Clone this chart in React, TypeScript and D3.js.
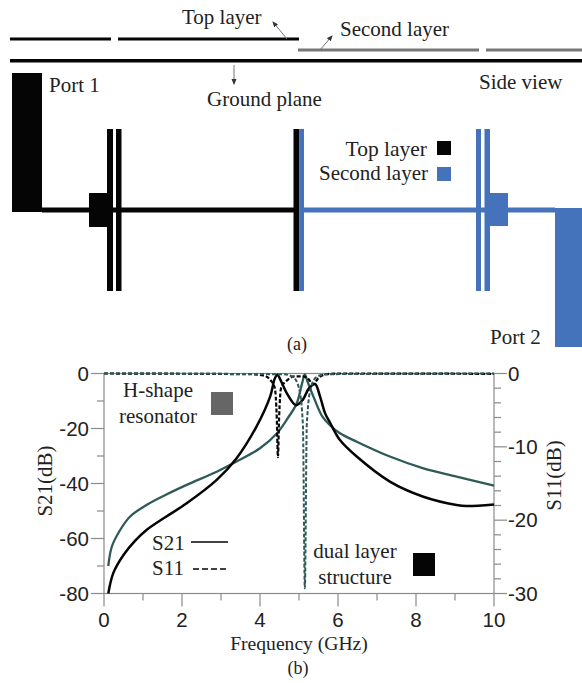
import React from 'react';
import * as d3 from 'd3';

type Pt = [number, number];

// dual layer structure, S21 (dB) and S11 (dB, right axis)
const dualS21: Pt[] = [[0.11, -80], [0.24, -72.5], [0.5, -66], [0.8, -60.8], [1.09, -56.9], [1.6, -52], [2.12, -47.2], [2.89, -38.7], [3.4, -30.8], [3.91, -19.3], [4.26, -8.4], [4.38, -1.8], [4.45, -0.5], [4.53, -2.5], [4.7, -7.5], [4.92, -11.5], [5.1, -9.5], [5.25, -5.5], [5.41, -3.8], [5.54, -8.4], [5.67, -14.5], [5.8, -18], [6.05, -24.2], [6.48, -30.2], [7.33, -39.3], [8.19, -44.8], [9.04, -47.8], [9.3, -48.2], [10, -47.6]];
const dualS11: Pt[] = [[0, 0], [3.8, -0.1], [4.1, -0.3], [4.25, -0.8], [4.38, -2], [4.43, -6], [4.46, -11.4], [4.49, -6], [4.54, -2], [4.7, -0.9], [4.9, -0.4], [5.1, -0.4], [5.25, -0.8], [5.36, -1.5], [5.5, -0.6], [5.7, -0.1], [6, 0], [10, -0.05]];
// H-shape resonator
const hS21: Pt[] = [[0.11, -70], [0.2, -63], [0.41, -57], [0.67, -52], [1.09, -47.8], [1.6, -44], [2.12, -40.5], [2.89, -35.7], [3.4, -32], [4, -27.2], [4.43, -21.8], [4.7, -16.5], [4.94, -10.9], [5.08, -3.5], [5.15, -0.3], [5.22, -3], [5.37, -8.4], [5.6, -15.7], [5.8, -18.9], [6.05, -21.7], [6.48, -24.8], [7.33, -30.2], [8.19, -34.5], [9.04, -37.5], [10, -40.8]];
const hS11: Pt[] = [[0, 0], [4.6, -0.1], [4.85, -0.5], [5.0, -2], [5.1, -7], [5.15, -29.3], [5.2, -7], [5.3, -2], [5.45, -0.5], [5.7, -0.1], [10, 0]];

const xMajor = [0, 2, 4, 6, 8, 10];
const xMinor = [1, 3, 5, 7, 9];
const s21Major = [0, -20, -40, -60, -80];
const s21Minor = [-10, -30, -50, -70];
const s11Major = [0, -10, -20, -30];
const s11Minor = [-2, -4, -6, -8, -12, -14, -16, -18, -22, -24, -26, -28];

const BLACK = '#050505';
const BLUE = '#4472bb';
const TEAL = '#2e5a58';
const AXIS = '#8a8a8a';
const INK = '#222';
const SERIF = '"Liberation Serif", serif';
const SANS = '"Liberation Sans", sans-serif';

// margins of plot (b)
const m = { l: 104, r: 494, t: 373.5, b: 593.5 };

const Label = ({ x, y, children, anchor = 'start', size = 21, family = SERIF, transform }: any) => (
  <text x={x} y={y} fill={INK} fontSize={size} fontFamily={family} textAnchor={anchor} transform={transform}>{children}</text>
);

// plain x,y,w,h helper for the layout drawing
const Box = ({ x0, x1, y0, y1, fill }: any) => <rect x={x0} y={y0} width={x1 - x0} height={y1 - y0} fill={fill} />;

const App = () => {
  const x = d3.scaleLinear().domain([0, 10]).range([m.l, m.r]);
  const yL = d3.scaleLinear().domain([0, -80]).range([m.t, m.b]);
  const yR = d3.scaleLinear().domain([0, -30]).range([m.t, m.b]);

  const lineL = d3.line<Pt>().x(d => x(d[0])).y(d => yL(d[1])).curve(d3.curveCatmullRom.alpha(0.5));
  const lineR = d3.line<Pt>().x(d => x(d[0])).y(d => yR(d[1])).curve(d3.curveMonotoneX);

  return (
    <svg width={582} height={683} style={{ position: 'absolute', left: 0, top: 0, background: '#fff' }}>
      <defs>
        <marker id="tip" viewBox="0 0 6 6" refX="5" refY="3" markerWidth="6" markerHeight="6" orient="auto">
          <path d="M0,0.5L6,3L0,5.5Z" fill="#333" />
        </marker>
      </defs>

      {/* side view */}
      <Box x0={10} x1={111} y0={37.5} y1={40.5} fill={BLACK} />
      <Box x0={118} x1={299} y0={37.5} y1={40.5} fill={BLACK} />
      <Box x0={298} x1={479} y0={48.5} y1={51.5} fill="#777" />
      <Box x0={486} x1={582} y0={48.5} y1={51.5} fill="#777" />
      <Box x0={10} x1={582} y0={59} y1={62.5} fill={BLACK} />
      <line x1={287} y1={39} x2={273} y2={22} stroke="#777" markerEnd="url(#tip)" />
      <line x1={320} y1={50} x2={332} y2={36} stroke="#777" markerEnd="url(#tip)" />
      <line x1={234} y1={65} x2={234} y2={84} stroke="#777" markerEnd="url(#tip)" />
      <Label x={182} y={24}>Top layer</Label>
      <Label x={340} y={36}>Second layer</Label>
      <Label x={49} y={92}>Port 1</Label>
      <Label x={207} y={106}>Ground plane</Label>
      <Label x={479} y={89}>Side view</Label>

      {/* top view */}
      <Box x0={12} x1={42} y0={73} y1={212} fill={BLACK} />
      <Box x0={42} x1={294} y0={207.5} y1={212.5} fill={BLACK} />
      <Box x0={89} x1={108} y0={193} y1={227} fill={BLACK} />
      <Box x0={107} x1={113} y0={129} y1={291} fill={BLACK} />
      <Box x0={116} x1={121.5} y0={129} y1={291} fill={BLACK} />
      <Box x0={293.5} x1={299.5} y0={129} y1={291} fill={BLACK} />
      <Box x0={299.5} x1={304} y0={129} y1={291} fill={BLUE} />
      <Box x0={304} x1={555} y0={207.5} y1={212.5} fill={BLUE} />
      <Box x0={476} x1={481} y0={129} y1={291} fill={BLUE} />
      <Box x0={484.5} x1={490} y0={129} y1={291} fill={BLUE} />
      <Box x0={490} x1={508} y0={193} y1={226} fill={BLUE} />
      <Box x0={555} x1={582} y0={208} y1={347} fill={BLUE} />
      <Box x0={437} x1={451} y0={141} y1={155} fill={BLACK} />
      <Box x0={437} x1={451} y0={167} y1={181} fill={BLUE} />
      <Label x={427} y={156} anchor="end" size={21.5}>Top layer</Label>
      <Label x={428} y={180} anchor="end">Second layer</Label>
      <Label x={490} y={344}>Port 2</Label>
      <Label x={297} y={350} anchor="middle" size={18}>(a)</Label>

      {/* plot frame and ticks */}
      <rect x={m.l} y={m.t} width={m.r - m.l} height={m.b - m.t} fill="none" stroke={AXIS} strokeWidth={1.2} />
      <g stroke={AXIS} strokeWidth={1.2}>
        {xMajor.map(d => <line key={d} x1={x(d)} x2={x(d)} y1={m.b} y2={m.b + 13} />)}
        {xMinor.map(d => <line key={d} x1={x(d)} x2={x(d)} y1={m.b} y2={m.b + 7} />)}
        {s21Major.map(d => <line key={d} x1={m.l - 13} x2={m.l} y1={yL(d)} y2={yL(d)} />)}
        {s21Minor.map(d => <line key={d} x1={m.l - 7} x2={m.l} y1={yL(d)} y2={yL(d)} />)}
        {s11Major.map(d => <line key={d} x1={m.r} x2={m.r + 13} y1={yR(d)} y2={yR(d)} />)}
        {s11Minor.map(d => <line key={d} x1={m.r} x2={m.r + 7} y1={yR(d)} y2={yR(d)} />)}
      </g>
      {xMajor.map(d => <Label key={d} x={x(d)} y={627} anchor="middle" family={SANS} size={20.5}>{d}</Label>)}
      {s21Major.map(d => <Label key={d} x={89} y={yL(d) + 7} anchor="end" family={SANS} size={20.5}>{d}</Label>)}
      {s11Major.map(d => <Label key={d} x={508} y={yR(d) + 7} family={SANS} size={20.5}>{d}</Label>)}

      {/* curves */}
      <path d={lineL(hS21) ?? ''} fill="none" stroke={TEAL} strokeWidth={2.3} />
      <path d={lineL(dualS21) ?? ''} fill="none" stroke={BLACK} strokeWidth={2.5} />
      <path d={lineR(dualS11) ?? ''} fill="none" stroke={BLACK} strokeWidth={2.2} strokeDasharray="4 2" />
      <path d={lineR(hS11) ?? ''} fill="none" stroke={TEAL} strokeWidth={2} strokeDasharray="4 2" />

      {/* labels inside the plot */}
      <Label x={158} y={397} anchor="middle">H-shape</Label>
      <Label x={158} y={423} anchor="middle">resonator</Label>
      <Box x0={211} x1={233} y0={392} y1={415} fill="#666" />
      <Label x={152} y={550}>S21</Label>
      <Label x={152} y={575}>S11</Label>
      <line x1={191} x2={228} y1={542} y2={542} stroke={BLACK} strokeWidth={1.6} />
      <line x1={193} x2={228} y1={569} y2={569} stroke={BLACK} strokeWidth={1.6} strokeDasharray="6 3" />
      <Label x={355} y={558} anchor="middle">dual layer</Label>
      <Label x={355} y={584} anchor="middle">structure</Label>
      <Box x0={413} x1={435} y0={553} y1={576} fill={BLACK} />

      <Label x={52} y={481} anchor="middle" transform="rotate(-90 52 481)">S21(dB)</Label>
      <Label x={561} y={475.5} anchor="middle" transform="rotate(-90 561 475.5)">S11(dB)</Label>
      <Label x={299} y={650} anchor="middle" size={19.6}>Frequency (GHz)</Label>
      <Label x={298} y={674} anchor="middle" size={18}>(b)</Label>
    </svg>
  );
};

export default App;
